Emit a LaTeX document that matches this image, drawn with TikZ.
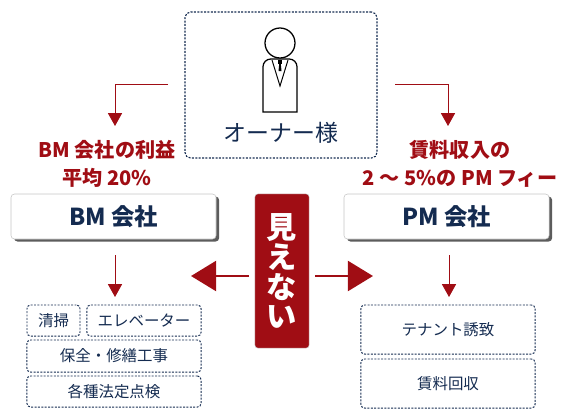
\documentclass[tikz,border=0pt]{standalone}
\usepackage{fontspec}
\setmainfont[BoldFont={Noto Sans CJK JP Black}]{Noto Sans CJK JP}
\usepackage{tikz}
\usetikzlibrary{positioning,arrows.meta,calc,shadows}
\definecolor{navy}{HTML}{142B50}
\definecolor{accent}{HTML}{A00D14}
\begin{document}
\begin{tikzpicture}[x=0.025cm,y=-0.025cm,
  taskbox/.style={draw=navy,dash pattern=on 1.4pt off 1pt,line width=0.7pt,rounded corners=2.5pt,text=navy,font=\fontsize{11}{13}\selectfont,inner sep=0pt},
  firm/.style={draw=gray!45,fill=white,rounded corners=2.5pt,text=navy,font=\fontsize{16.6}{18}\selectfont\bfseries,minimum width=5.125cm,minimum height=1.125cm,inner sep=0pt,drop shadow={shadow xshift=2.2pt,shadow yshift=-1.8pt,fill=black!80,opacity=0.8}},
  note/.style={text=accent,font=\fontsize{14.3}{19.8}\selectfont\bfseries,align=center,inner sep=0pt},
  slim/.style={draw=accent,line width=0.7pt,-{Triangle[length=3.2mm,width=3.5mm]}},
  fat/.style={draw=accent,line width=2pt,-{Triangle[length=6.3mm,width=7.5mm]}}]
\useasboundingbox (0,0) rectangle (566,417);
% owner
\node[taskbox,minimum width=4.8cm,minimum height=3.65cm,line width=0.8pt,rounded corners=4pt] (owner) at (281,85) {};
\node[text=navy,font=\fontsize{16.3}{18}\selectfont,inner sep=0pt] (ownerlabel) at (281,133) {オーナー様};
\node[draw=black,line width=0.9pt,circle,minimum size=0.75cm,inner sep=0pt] (head) at (280,43) {};
\draw[line width=0.9pt] (263,112) [rounded corners=5.5pt] -- (263,59) -- (297,59) [sharp corners] -- (297,112) -- cycle;
\draw[line width=0.7pt] (272,60) -- (280,86) -- (288,60);
\fill (278,60) rectangle (282,64);
\fill (279.2,64) -- (280.8,64) -- (281.5,71) -- (278.5,71) -- cycle;
% firms
\node[firm] (bm) at (113.5,216.5) {BM 会社};
\node[firm] (pm) at (446.5,216.5) {PM 会社};
\node[note] (bmnote) at (107,164) {BM 会社の利益\\平均 20\%};
\node[note] (pmnote) at (460,164) {賃料収入の\\2 ～ 5\%の PM フィー};
% hidden
\node[fill=accent,rounded corners=2pt,draw=gray!50,line width=0.3pt,minimum width=1.35cm,minimum height=3.85cm,inner sep=0pt,text=white,font=\fontsize{21.5}{21.3}\selectfont\bfseries,align=center] (hidden) at (282,271) {見\\え\\な\\い};
% tasks
\node[taskbox,minimum width=1.325cm,minimum height=0.775cm] (t1) at (53.5,320.5) {清掃};
\node[taskbox,minimum width=2.85cm,minimum height=0.775cm] (t2) at (144,320.5) {エレベーター};
\node[taskbox,minimum width=4.35cm,minimum height=0.8cm] (t3) at (114,356) {保全・修繕工事};
\node[taskbox,minimum width=4.35cm,minimum height=0.775cm] (t4) at (114,391.5) {各種法定点検};
\node[taskbox,minimum width=4.35cm,minimum height=1.225cm] (t5) at (448,329.5) {テナント誘致};
\node[taskbox,minimum width=4.35cm,minimum height=1.225cm] (t6) at (448,383.5) {賃料回収};
% free ends
\coordinate (a1) at (168,84);
\coordinate (a2) at (115,126);
\coordinate (b1) at (395,84);
\coordinate (b2) at (448,126);
\coordinate (c1) at (115,255);
\coordinate (c2) at (115,297);
\coordinate (d1) at (449,255);
\coordinate (d2) at (449,297);
\coordinate (e1) at (249,276);
\coordinate (e2) at (191,276);
\coordinate (f1) at (315,276);
\coordinate (f2) at (373,276);
\draw[slim] (a1) -| (a2);
\draw[slim] (b1) -| (b2);
\draw[slim] (c1) -- (c2);
\draw[slim] (d1) -- (d2);
\draw[fat] (e1) -- (e2);
\draw[fat] (f1) -- (f2);
\end{tikzpicture}
\end{document}
